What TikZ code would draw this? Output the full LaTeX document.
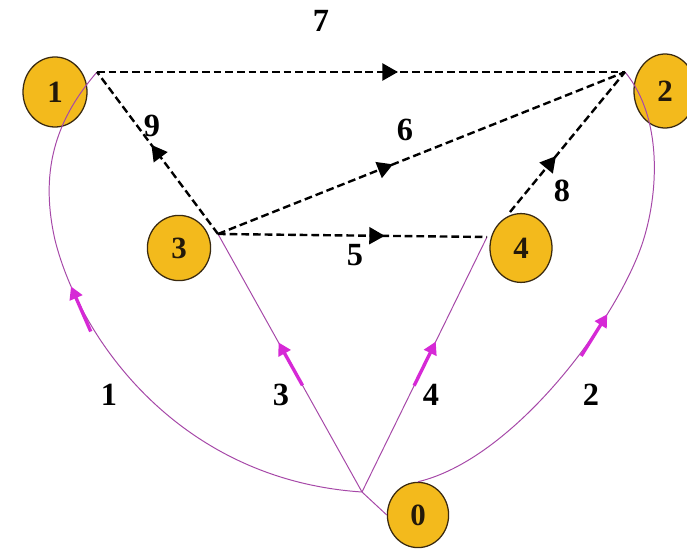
\documentclass[tikz,border=0pt]{standalone}
\usepackage{fontspec}
\setmainfont{Liberation Serif}
\usepackage{xcolor}
\usetikzlibrary{arrows.meta,shapes.geometric,decorations.markings}
\definecolor{NodeGold}{HTML}{F3BA1C}
\definecolor{NodeRim}{HTML}{3A2A10}
\definecolor{PathPurple}{HTML}{A648A8}
\definecolor{TipMagenta}{HTML}{D629D6}
\newcommand{\digit}[1]{{\fontsize{22}{24}\selectfont\bfseries #1}}
\newcommand{\bigdigit}[1]{{\fontsize{23}{25}\selectfont\bfseries #1}}
\newcommand{\citynode}[5]{\node[city,minimum width=#3,minimum height=#4] (#1) at (#2) {\digit{#5}};}
\tikzset{
  city/.style={ellipse,draw=NodeRim,line width=0.9pt,fill=NodeGold,inner sep=0pt,text=NodeRim!60!black},
  dashlink/.style={draw=black,line width=1.7pt,dash pattern=on 5.5pt off 2.8pt},
  arclink/.style={draw=PathPurple,line width=0.7pt},
  dashmid/.style={postaction={decorate},decoration={markings,mark=at position #1 with {\arrow[black]{Triangle[length=11pt,width=12pt]}}}},
  arcmid/.style={postaction={decorate},decoration={markings,mark=at position #1 with {\draw[TipMagenta,line width=2.4pt,-{Triangle[length=9pt,width=9.5pt]}] (-35pt,0) -- (0,0);}}},
  tag/.style={inner sep=1pt}
}
\begin{document}
\begin{tikzpicture}[x=0.025cm,y=-0.025cm]
  \useasboundingbox[fill=white] (0,0) rectangle (687,551);
  % towns
  \citynode{c1}{55,92}{1.6cm}{1.75cm}{1}
  \citynode{c2}{665,91}{1.55cm}{1.85cm}{2}
  \citynode{c3}{179,248}{1.58cm}{1.63cm}{3}
  \citynode{c4}{521,248}{1.55cm}{1.72cm}{4}
  \citynode{c0}{418,515}{1.53cm}{1.63cm}{0}
  % corners where the links meet
  \coordinate (p1) at (97,72);
  \coordinate (p2) at (625,72);
  \coordinate (p3) at (218,234);
  \coordinate (p4) at (487,237);
  \coordinate (q4) at (510,212);
  \coordinate (p0) at (362,492);
  % purple links out of 0
  \draw[arclink] (c0.west) -- (p0);
  \draw[arclink,arcmid=0.62] (p0) .. controls (180,480) and (80,340) .. (55,240)
    .. controls (38,165) and (60,115) .. (p1);
  \draw[arclink,arcmid=0.5] (c0.north) .. controls (510,460) and (610,330) .. (640,250)
    .. controls (658,202) and (665,120) .. (p2);
  \draw[arclink,arcmid=0.58] (p0) -- (p3);
  \draw[arclink,arcmid=0.59] (p0) -- (p4);
  % dashed links
  \draw[dashlink,dashmid=0.57] (p1) -- (p2);
  \draw[dashlink,dashmid=0.55] (p3) -- (p1);
  \draw[dashlink,dashmid=0.43] (p3) -- (p2);
  \draw[dashlink,dashmid=0.62] (p3) -- (p4);
  \draw[dashlink,dashmid=0.4] (q4) -- (p2);
  % link numbers
  \node[tag] (n7) at (321,21) {\bigdigit{7}};
  \node[tag] (n9) at (152,126) {\bigdigit{9}};
  \node[tag] (n6) at (405,130) {\bigdigit{6}};
  \node[tag] (n5) at (355,255) {\bigdigit{5}};
  \node[tag] (n8) at (562,191) {\bigdigit{8}};
  \node[tag] (n1) at (109,395) {\bigdigit{1}};
  \node[tag] (n3) at (281,395) {\bigdigit{3}};
  \node[tag] (n4) at (431,395) {\bigdigit{4}};
  \node[tag] (n2) at (591,395) {\bigdigit{2}};
\end{tikzpicture}
\end{document}
